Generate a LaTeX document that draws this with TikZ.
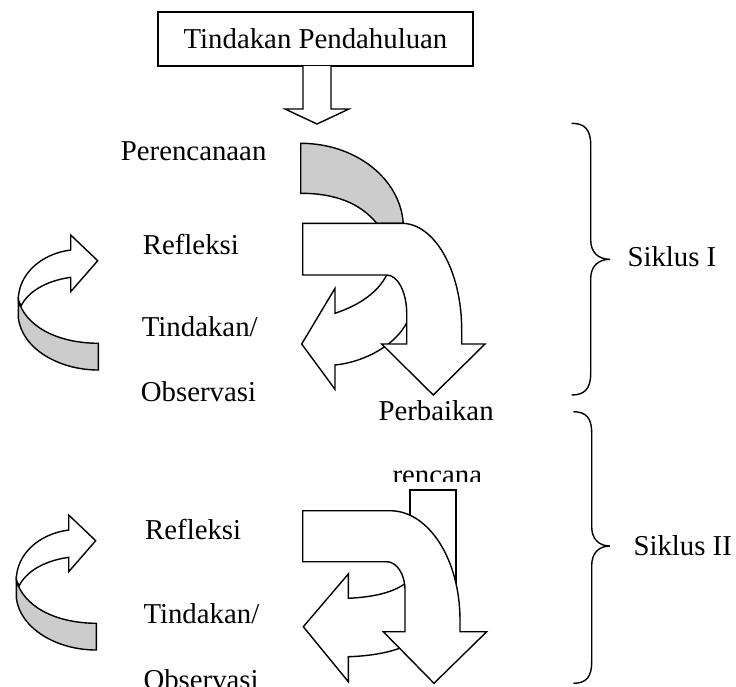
\documentclass[tikz,border=0pt]{standalone}
\usepackage{fontspec}
\setmainfont{Liberation Serif}
\usetikzlibrary{positioning}

\begin{document}
\begin{tikzpicture}[x=1pt, y=-1pt, font=\fontsize{28.8}{34}\selectfont,
  bentuk/.style={draw, line width=1.4pt, fill=white},
  bayang/.style={draw, line width=1.4pt, fill=gray!40},
  tulisan/.style={anchor=base west, inner sep=0pt},
  kurung/.style={draw, line width=1.4pt}]
  \path[use as bounding box, fill=white] (0,0) rectangle (736,686);

  % kotak awal
  \node[draw, line width=1.4pt, minimum width=315pt, minimum height=54pt, inner sep=0pt] (awal) at (315.5,39) {Tindakan Pendahuluan};
  \draw[bentuk] (303,66) -- (303,109) -- (285,109) -- (317,124) -- (349,109) -- (331,109) -- (331,66);

  % panah melingkar kiri (siklus I dan II)
  \foreach \dx/\dy in {0/0, -2/280} {
    \begin{scope}[shift={(\dx,\dy)}]
      \draw[bentuk] (18.3,300) .. controls (18.3,275) and (40,254) .. (70.7,250) -- (70.7,235) -- (97.7,260.7) -- (70.7,291.7) -- (70.7,277.3) .. controls (45,281) and (28,292) .. (21,306) -- cycle;
      \draw[bayang] (18.3,300) -- (18.3,318) .. controls (22,348) and (58,370) .. (98.3,370) -- (98.3,343.3) .. controls (55,343) and (25,325) .. (18.3,300) -- cycle;
    \end{scope}
  }

  % siklus I
  \draw[bayang] (300.7,143.3) .. controls (355,143.3) and (400,178) .. (403.3,223.3) -- (376.7,223.3) .. controls (360,203) and (335,193.3) .. (300.7,193.3) -- cycle;
  \draw[bentuk] (386.7,275) .. controls (378,292) and (360,305) .. (335,313.3) -- (335,288.3) -- (301.7,344) -- (335,389.3) -- (335,365) .. controls (365,362) and (395,345) .. (406.7,323) -- (420,300) -- (400,268) -- cycle;
  \draw[bentuk] (302.7,223.3) -- (401.7,223.3) .. controls (434.8,223.3) and (461.7,271.1) .. (461.7,330) -- (461.7,344) -- (485,344) -- (433.3,395) -- (381.7,344) -- (406.7,344) -- (406.7,313.3) .. controls (406.7,292.1) and (397.7,275) .. (386.7,275) -- (302.7,275) -- cycle;

  % siklus II
  \draw[bentuk] (410,490) rectangle (456,595);
  \draw[bentuk] (348.3,598.3) -- (348.3,574) -- (303.3,626.7) -- (348.3,681.7) -- (348.3,656.7) .. controls (372,656) and (392,652) .. (405,646) -- (425,640) -- (425,590) -- (407,582) .. controls (395,592) and (375,597) .. (348.3,598.3) -- cycle;
  \draw[bentuk] (302.7,510.7) -- (390,510.7) .. controls (428.7,510.7) and (460,559.6) .. (460,620) -- (460,631.7) -- (486.7,631.7) -- (434,683.3) -- (383.3,631.7) -- (405,631.7) -- (405,590) .. controls (405,574.4) and (396.8,561.7) .. (386.7,561.7) -- (302.7,561.7) -- cycle;

  % tulisan
  \node[tulisan] (rencana1) at (120.7,160) {Perencanaan};
  \node[tulisan] (refleksi1) at (142.7,254) {Refleksi};
  \node[tulisan] (tindakan1) at (141.7,336.7) {Tindakan/};
  \node[tulisan] (observasi1) at (140.7,401.7) {Observasi};
  \node[tulisan] (perbaikan) at (378.3,420.7) {Perbaikan};
  \begin{scope}
    \clip (380,440) rectangle (500,481);
    \node[tulisan] (rencana2) at (392.3,484.6) {rencana};
  \end{scope}
  \node[tulisan] (refleksi2) at (145,539) {Refleksi};
  \node[tulisan] (tindakan2) at (143.3,623.3) {Tindakan/};
  \node[tulisan] (observasi2) at (143.3,689) {Observasi};

  % kurung kurawal
  \draw[kurung] (571.7,123.3) .. controls (585,123.3) and (590.7,130) .. (590.7,145) -- (590.7,240) .. controls (590.7,252) and (598,259.3) .. (610,259.3) .. controls (598,259.3) and (590.7,266.6) .. (590.7,278.6) -- (590.7,373.3) .. controls (590.7,388.3) and (585,395) .. (571.7,395);
  \draw[kurung] (573.3,411.7) .. controls (586.6,411.7) and (591.7,418.4) .. (591.7,433.4) -- (591.7,526.7) .. controls (591.7,538.7) and (598.7,546) .. (610,546) .. controls (598.7,546) and (591.7,553.3) .. (591.7,565.3) -- (591.7,661.6) .. controls (591.7,676.6) and (586.6,683.3) .. (573.3,683.3);
  \node[tulisan] (siklus1) at (627.3,266.7) {Siklus I};
  \node[tulisan] (siklus2) at (633.3,555) {Siklus II};
\end{tikzpicture}
\end{document}
